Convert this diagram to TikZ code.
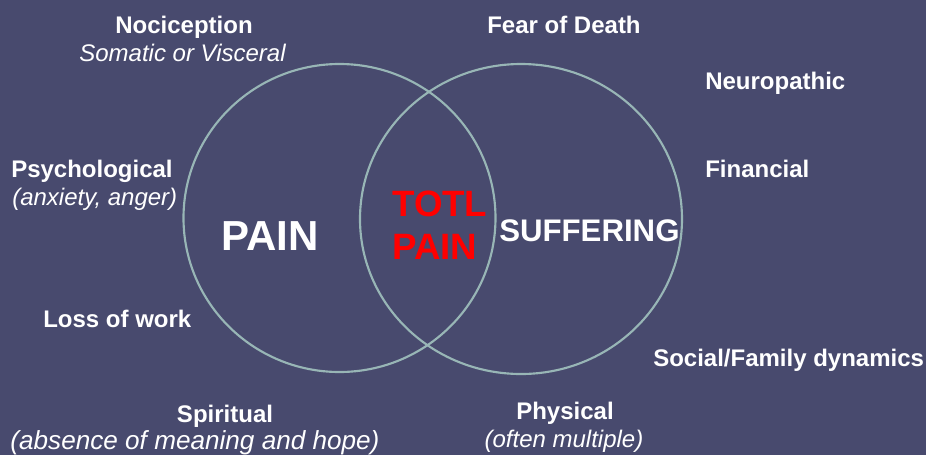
\documentclass[tikz,border=0pt]{standalone}
\usepackage{fontspec}
\setmainfont{Liberation Sans}
\usetikzlibrary{shapes.geometric}
\definecolor{slate}{RGB}{72,74,110}
\definecolor{ringline}{RGB}{152,182,182}
\definecolor{hotred}{RGB}{255,0,0}
\begin{document}
\begin{tikzpicture}[x=0.75pt,y=-0.75pt,
  ring/.style={draw=ringline,line width=1.6pt,shape=ellipse,inner sep=0pt,outer sep=0pt},
  lbl/.style={text=white,font=\fontsize{18}{20}\selectfont\bfseries,inner sep=0pt},
  note/.style={text=white,font=\fontsize{18}{20}\selectfont\itshape,inner sep=0pt},
  widenote/.style={text=white,font=\fontsize{19.6}{22}\selectfont\itshape,inner sep=0pt},
  big/.style={text=white,font=\fontsize{31.5}{34}\selectfont\bfseries,inner sep=0pt},
  mid/.style={text=white,font=\fontsize{23.4}{26}\selectfont\bfseries,inner sep=0pt},
  core/.style={text=hotred,font=\fontsize{27.5}{30}\selectfont\bfseries,inner sep=0pt}]
  % page background
  \fill[slate] (0,0) rectangle (926,455);
  \useasboundingbox (0,0) rectangle (926,455);

  % the two overlapping rings
  \node[ring,minimum width=234pt,minimum height=231pt] (painring) at (339.5,218) {};
  \node[ring,minimum width=241.5pt,minimum height=232.5pt] (sufferring) at (521,219) {};

  % ring titles
  \node[big,anchor=base west] (pain) at (221,250) {PAIN};
  \node[mid,anchor=base west] (suffering) at (499,241.5) {SUFFERING};
  \node[core,anchor=base west] (totl) at (392,216) {TOTL};
  \node[core,anchor=base west] (totlpain) at (392,259) {PAIN};

  % surrounding factors
  \node[lbl,anchor=base] (noci) at (184,33) {Nociception};
  \node[note,anchor=base] (nocinote) at (182.5,61) {Somatic or Visceral};
  \node[lbl,anchor=base] (fear) at (564,33) {Fear of Death};
  \node[lbl,anchor=base west] (neuro) at (705,89.5) {Neuropathic};
  \node[lbl,anchor=base west] (fin) at (705,177.5) {Financial};
  \node[lbl,anchor=base west] (psych) at (11,177) {Psychological};
  \node[note,anchor=base west] (psychnote) at (12,205) {(anxiety, anger)};
  \node[lbl,anchor=base west] (work) at (43,327) {Loss of work};
  \node[lbl,anchor=base west] (social) at (653,366) {Social/Family dynamics};
  \node[lbl,anchor=base] (spirit) at (225,422.5) {Spiritual};
  \node[widenote,anchor=base] (spiritnote) at (195,449) {(absence of meaning and hope)};
  \node[lbl,anchor=base] (phys) at (565,419.5) {Physical};
  \node[note,anchor=base] (physnote) at (564,447) {(often multiple)};
\end{tikzpicture}
\end{document}
